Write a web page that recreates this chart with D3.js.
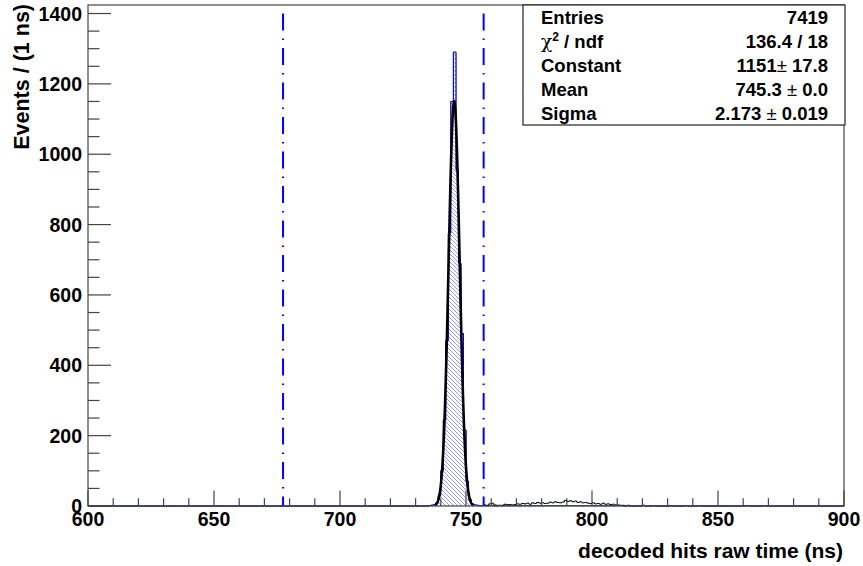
<!DOCTYPE html>
<html>
<head>
<meta charset="utf-8">
<script src="https://cdn.jsdelivr.net/npm/d3@7/dist/d3.min.js"></script>
<style>
  body { margin: 0; background: #fff; }
  text { font-family: "Liberation Sans", Arial, Helvetica, sans-serif; font-weight: bold; fill: #000; }
</style>
</head>
<body>
<svg id="chart" width="863" height="566"></svg>
<script>
// ---- axis ticks ----
const xTickValues = [600, 650, 700, 750, 800, 850, 900];
const yTickValues = [0, 200, 400, 600, 800, 1000, 1200, 1400];

// ---- histogram contents (1 ns bins, value = lower bin edge) ----
// peak region, common to both histograms
const peakStart = 735;
const peakCounts = [1, 2, 4, 9, 30, 100, 244, 470, 776, 1150, 1290, 955, 690, 490, 216, 70, 20, 6, 3, 2, 1, 1];

// late tail: all hits (black) and selected hits (blue)
const tailStart = 757;
const tailAll = [3, 2, 6, 8, 3, 2, 2, 2, 5, 4, 4, 3, 4, 6, 5, 7, 6, 8, 5, 9, 7, 10, 8, 9, 7, 8, 11, 9, 12, 10,
                 9, 11, 16, 13, 15, 12, 14, 10, 12, 9, 10, 8, 7, 9, 6, 7, 5, 8, 5, 6, 4, 5, 3, 3, 2, 2];
const tailSel = [1, 0, 1, 1, 0, 0, 1, 0, 1, 1, 0, 1, 1, 1, 0, 1, 1, 1, 0, 1, 1, 1, 1, 0, 1, 1, 1, 1, 1, 1,
                 1, 1, 1, 1, 1, 1, 1, 1, 1, 0, 1, 1, 1, 1, 0, 1, 1, 1, 0, 1, 1, 0, 1, 1, 1, 0];

// isolated late hits
const strayBins = [814, 818, 820, 824, 831, 837, 842, 861, 868];
const strayAll  = [2, 1, 2, 1, 1, 1, 1, 1, 1];
const straySel  = [1, 0, 1, 1, 1, 1, 1, 1, 1];

// ---- Gaussian fit parameters ----
const fitConstant = 1151, fitMean = 745.3, fitSigma = 2.173;
const fitRange = [737.6, 753.0];

// ---- selection window markers ----
const windowEdges = [677.4, 757.0];

// ---- statistics box ----
const statLabels = ["Entries", "chi2", "Constant", "Mean", "Sigma"];
const statValues = ["7419", "136.4 / 18", ["1151", "17.8"], ["745.3", "0.0"], ["2.173", "0.019"]];

// ---------------------------------------------------------------
const svg = d3.select("#chart");
const frame = { left: 88, right: 844, top: 5, bottom: 506 };

const x = d3.scaleLinear().domain([600, 900]).range([frame.left, frame.right]);
const y = d3.scaleLinear().domain([0, 1424.2]).range([frame.bottom, frame.top]);

// assemble per-bin arrays over the full axis range
const nBins = 300;
const allHist = new Array(nBins).fill(0);
const selHist = new Array(nBins).fill(0);
peakCounts.forEach((c, i) => { allHist[peakStart + i - 600] += c; selHist[peakStart + i - 600] += c; });
tailAll.forEach((c, i) => { allHist[tailStart + i - 600] += c; });
tailSel.forEach((c, i) => { selHist[tailStart + i - 600] += c; });
strayBins.forEach((b, i) => { allHist[b - 600] += strayAll[i]; selHist[b - 600] += straySel[i]; });

function stepPoints(counts) {
  const pts = [[600, 0]];
  counts.forEach((c, i) => { pts.push([600 + i, c]); pts.push([601 + i, c]); });
  pts.push([900, 0]);
  return pts;
}
const stepLine = d3.line().x(d => x(d[0])).y(d => y(d[1]));

// hatch pattern for the selected histogram
const defs = svg.append("defs");
const pat = defs.append("pattern")
  .attr("id", "hatch").attr("patternUnits", "userSpaceOnUse")
  .attr("width", 4).attr("height", 4);
pat.append("rect").attr("width", 4).attr("height", 4).attr("fill", "#ffffff");
pat.append("path").attr("d", "M0,0 L4,4 M-1,3 L1,5 M3,-1 L5,1")
  .attr("stroke", "#4a58ee").attr("stroke-width", 0.8).attr("stroke-opacity", 0.75);

const plot = svg.append("g");

// all hits histogram (black outline)
plot.append("path")
  .attr("d", stepLine(stepPoints(allHist)))
  .attr("fill", "none").attr("stroke", "#000").attr("stroke-width", 1);

// selected hits histogram (blue hatched)
plot.append("path")
  .attr("d", stepLine(stepPoints(selHist)))
  .attr("fill", "url(#hatch)").attr("stroke", "#0000ff").attr("stroke-width", 1);

// Gaussian fit
const nPts = 300;
const fitPts = d3.range(nPts + 1).map(i => {
  const t = fitRange[0] + (fitRange[1] - fitRange[0]) * i / nPts;
  return [t, fitConstant * Math.exp(-0.5 * Math.pow((t - fitMean) / fitSigma, 2))];
});
plot.append("path")
  .attr("d", d3.line().x(d => x(d[0])).y(d => y(d[1]))(fitPts))
  .attr("fill", "none").attr("stroke", "#000").attr("stroke-width", 2.6)
  .attr("stroke-linejoin", "round");

// window markers
plot.selectAll("line.win").data(windowEdges).join("line")
  .attr("class", "win")
  .attr("x1", d => x(d)).attr("x2", d => x(d))
  .attr("y1", y(1400)).attr("y2", y(0))
  .attr("stroke", "#0000ff").attr("stroke-width", 2)
  .attr("stroke-dasharray", "17,8,1.5,8");

// frame
svg.append("rect")
  .attr("x", frame.left).attr("y", frame.top)
  .attr("width", frame.right - frame.left).attr("height", frame.bottom - frame.top)
  .attr("fill", "none").attr("stroke", "#444").attr("stroke-width", 1.2);

// x axis ticks (inside frame)
const xMinor = d3.range(600, 901, 10);
svg.append("g").selectAll("line").data(xMinor).join("line")
  .attr("x1", d => x(d)).attr("x2", d => x(d))
  .attr("y1", frame.bottom)
  .attr("y2", d => frame.bottom - (xTickValues.includes(d) ? 15.5 : 7.8))
  .attr("stroke", "#444").attr("stroke-width", 1.2);
svg.append("g").selectAll("text").data(xTickValues).join("text")
  .attr("x", d => x(d)).attr("y", 526)
  .attr("text-anchor", "middle").style("font-size", "19.5px")
  .text(d => d);

// y axis ticks (inside frame)
const yMinor = d3.range(0, 1401, 50);
svg.append("g").selectAll("line").data(yMinor).join("line")
  .attr("x1", frame.left)
  .attr("x2", d => frame.left + (yTickValues.includes(d) ? 23 : 11.5))
  .attr("y1", d => y(d)).attr("y2", d => y(d))
  .attr("stroke", "#444").attr("stroke-width", 1.2);
svg.append("g").selectAll("text").data(yTickValues).join("text")
  .attr("x", 82).attr("y", d => y(d))
  .attr("dy", "0.36em")
  .attr("text-anchor", "end").style("font-size", "19.5px")
  .text(d => d);

// axis titles
svg.append("text")
  .attr("x", 843).attr("y", 558)
  .attr("text-anchor", "end").style("font-size", "21px")
  .text("decoded hits raw time (ns)");
svg.append("text")
  .attr("transform", "translate(29,4) rotate(-90)")
  .attr("text-anchor", "end").style("font-size", "21.5px")
  .text("Events / (1 ns)");

// statistics box
const box = { left: 523, right: 845, top: 5, bottom: 125 };
svg.append("rect")
  .attr("x", box.left).attr("y", box.top)
  .attr("width", box.right - box.left).attr("height", box.bottom - box.top)
  .attr("fill", "#fff").attr("stroke", "#222").attr("stroke-width", 1.2);

const rowH = (box.bottom - box.top) / statLabels.length;
statLabels.forEach((lab, i) => {
  const by = box.top + rowH * i + rowH / 2 + 7;
  const lt = svg.append("text").attr("x", 541).attr("y", by).style("font-size", "18.5px");
  if (lab === "chi2") {
    lt.append("tspan").style("font-family", "'DejaVu Serif', serif").style("font-weight", "normal").text("\u03c7");
    lt.append("tspan").attr("dy", -7).style("font-size", "12px").text("2");
    lt.append("tspan").attr("dy", 7).text(" / ndf");
  } else {
    lt.text(lab);
  }
  const v = statValues[i];
  const rt = svg.append("text").attr("x", 828).attr("y", by)
    .attr("text-anchor", "end").style("font-size", "18.5px");
  if (Array.isArray(v)) {
    rt.append("tspan").text(v[0]);
    rt.append("tspan").style("font-weight", "normal").text(i === 2 ? "\u00b1 " : " \u00b1 ");
    rt.append("tspan").text(v[1]);
  } else {
    rt.text(v);
  }
});
</script>
</body>
</html>
